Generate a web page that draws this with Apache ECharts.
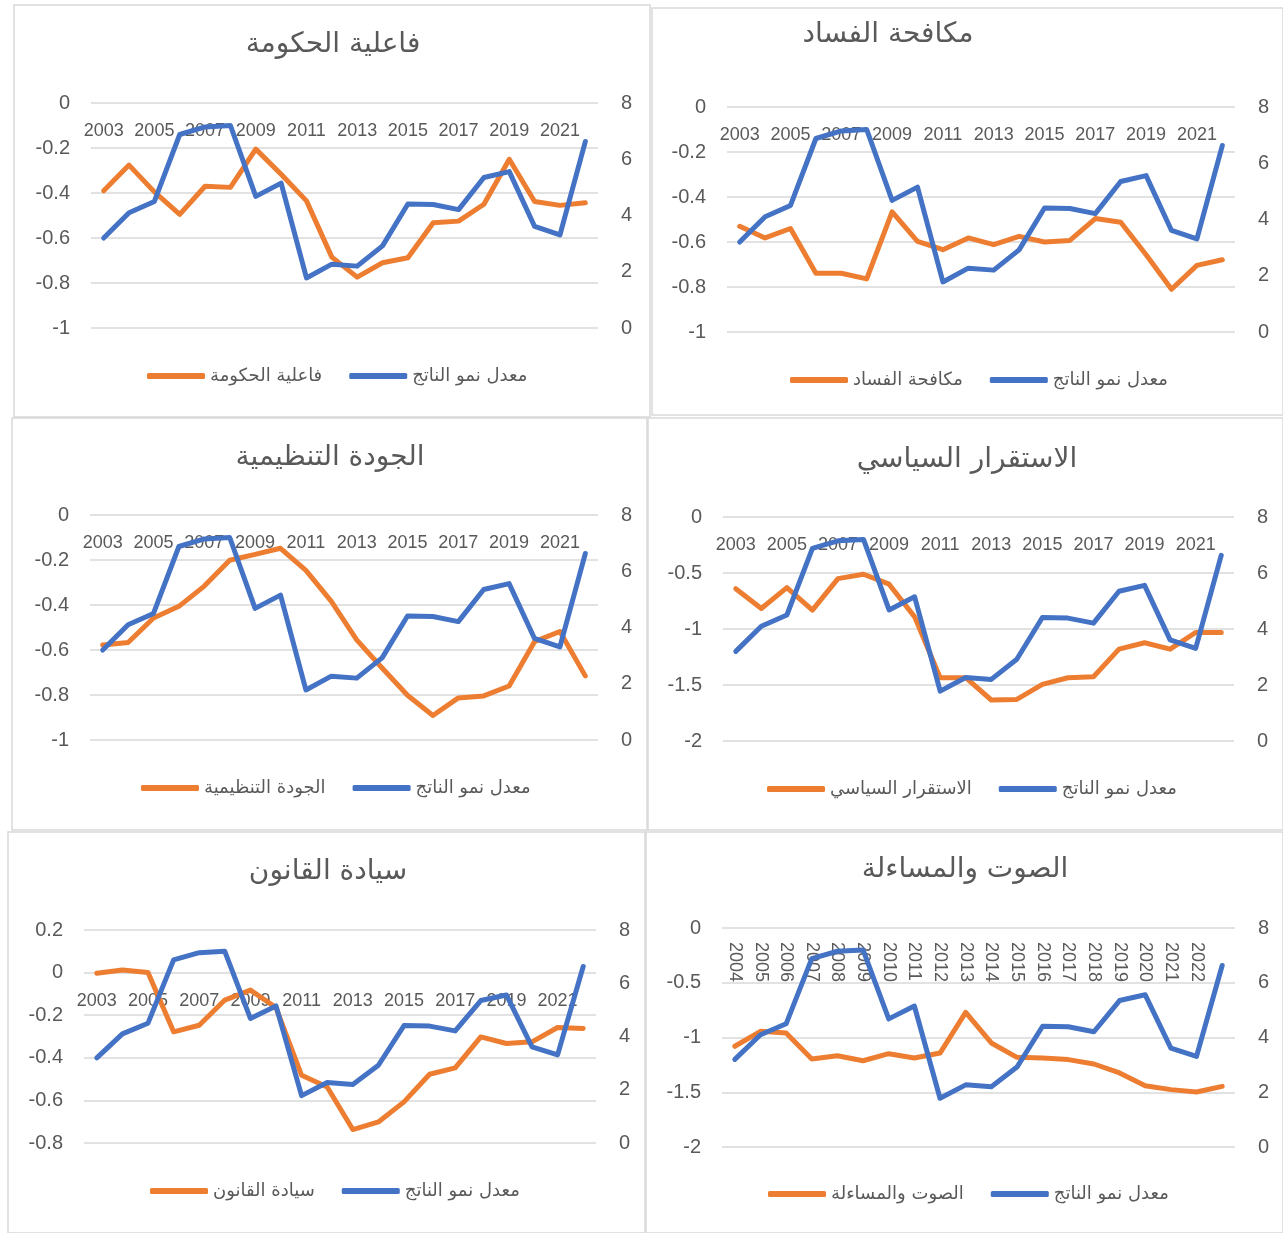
<!DOCTYPE html>
<html>
<head>
<meta charset="utf-8">
<title>مؤشرات الحوكمة ومعدل نمو الناتج</title>
<script src="https://cdn.jsdelivr.net/npm/echarts@6/dist/echarts.min.js"></script>
<style>
html,body{margin:0;padding:0;background:#fff;}
#main{width:1283px;height:1233px;}
</style>
</head>
<body>
<div id="main"></div>
<script>
// السنوات
var years = ['2003','2004','2005','2006','2007','2008','2009','2010','2011','2012',
             '2013','2014','2015','2016','2017','2018','2019','2020','2021','2022'];
var yearsVoice = ['2004','2005','2006','2007','2008','2009','2010','2011','2012','2013',
                  '2014','2015','2016','2017','2018','2019','2020','2021','2022',''];

// معدل نمو الناتج (المحور الايمن)
var gdpGrowth = [3.2, 4.1, 4.5, 6.88, 7.15, 7.2, 4.68, 5.15, 1.78, 2.27,
                 2.2, 2.92, 4.41, 4.39, 4.21, 5.35, 5.56, 3.61, 3.31, 6.63];

// مؤشرات الحوكمة (المحور الايسر)
var govEffect = [-0.39, -0.276, -0.395, -0.495, -0.37, -0.375, -0.205, -0.317, -0.435, -0.685,
                 -0.774, -0.71, -0.688, -0.532, -0.525, -0.45, -0.25, -0.438, -0.455, -0.443];
var corruption = [-0.53, -0.582, -0.54, -0.739, -0.739, -0.764, -0.466, -0.597, -0.634, -0.582,
                  -0.612, -0.575, -0.6, -0.593, -0.496, -0.512, -0.657, -0.81, -0.704, -0.679];
var regQuality = [-0.578, -0.567, -0.458, -0.406, -0.316, -0.201, -0.175, -0.148, -0.246, -0.384,
                  -0.555, -0.68, -0.801, -0.891, -0.813, -0.804, -0.76, -0.563, -0.518, -0.715];
var polStability = [-0.64, -0.817, -0.63, -0.832, -0.55, -0.511, -0.6, -0.892, -1.435, -1.435,
                    -1.634, -1.629, -1.495, -1.435, -1.426, -1.18, -1.123, -1.18, -1.031, -1.031];
var ruleOfLaw = [-0.003, 0.012, 0.0, -0.278, -0.247, -0.129, -0.082, -0.164, -0.482, -0.537,
                 -0.737, -0.701, -0.607, -0.477, -0.447, -0.302, -0.333, -0.325, -0.258, -0.262];
var voiceAcc = [-1.08, -0.944, -0.959, -1.196, -1.166, -1.212, -1.148, -1.187, -1.142, -0.77,
                -1.05, -1.181, -1.187, -1.202, -1.242, -1.324, -1.44, -1.476, -1.498, -1.446];

var gdpName = 'معدل نمو الناتج';
var orange = '#ED7D31', blue = '#4472C4', txt = '#595959', gridClr = '#d9d9d9';

// الرسوم الستة: grid = [left, top, width, height]
var panels = [
  {name:'فاعلية الحكومة', data:govEffect, cats:years, min:-1, max:0, step:0.2,
   grid:[91,103,507,225], titleAt:[333,45], legendAt:[147,378], box:[14,5,636,412]},
  {name:'مكافحة الفساد', data:corruption, cats:years, min:-1, max:0, step:0.2,
   grid:[727,107,508,225], titleAt:[888,35], legendAt:[790,382], box:[652,8,631,407]},
  {name:'الجودة التنظيمية', data:regQuality, cats:years, min:-1, max:0, step:0.2,
   grid:[90,515,508,225], titleAt:[330,458], legendAt:[141,790], box:[12,418,635,412]},
  {name:'الاستقرار السياسي', data:polStability, cats:years, min:-2, max:0, step:0.5,
   grid:[723,517,511,224], titleAt:[967,460], legendAt:[767,791], box:[648,418,635,412]},
  {name:'سيادة القانون', data:ruleOfLaw, cats:years, min:-0.8, max:0.2, step:0.2,
   grid:[84,930,512,213], titleAt:[328,872], legendAt:[150,1193], box:[8,832,637,401]},
  {name:'الصوت والمساءلة', data:voiceAcc, cats:yearsVoice, min:-2, max:0, step:0.5, rotate:true,
   grid:[722,928,513,219], titleAt:[965,870], legendAt:[768,1196], box:[646,832,637,401]}
];

var option = {
  animation: false,
  backgroundColor: '#fff',
  title: [], legend: [], grid: [], xAxis: [], yAxis: [], series: [], graphic: []
};

panels.forEach(function (p, i) {
  option.graphic.push({
    type: 'rect', silent: true, z: -10,
    shape: {x: p.box[0], y: p.box[1], width: p.box[2], height: p.box[3]},
    style: {fill: 'none', stroke: gridClr, lineWidth: 1.5}
  });
  option.title.push({
    text: p.name, left: p.titleAt[0], top: p.titleAt[1], padding: 0,
    textAlign: 'center', textVerticalAlign: 'middle',
    textStyle: {fontFamily: 'DejaVu Sans', fontSize: 28, fontWeight: 'normal', color: txt}
  });
  option.legend.push({
    left: p.legendAt[0], top: p.legendAt[1] - 11, padding: 0,
    data: [p.name, gdpName], icon: 'roundRect',
    itemWidth: 58, itemHeight: 6, itemGap: 27,
    textStyle: {fontFamily: 'DejaVu Sans', fontSize: 18, color: txt}
  });
  option.grid.push({
    left: p.grid[0], top: p.grid[1], width: p.grid[2], height: p.grid[3],
    containLabel: false, outerBoundsMode: 'none'
  });
  // محور السنوات عند صفر المحور الايسر، والتسميات تحته
  var zeroOffset = p.grid[3] * p.max / (p.max - p.min);
  option.xAxis.push({
    type: 'category', gridIndex: i, data: p.cats, boundaryGap: true,
    position: 'top', offset: -zeroOffset,
    axisLine: {show: false, onZero: false},
    axisTick: {show: false},
    splitLine: {show: false},
    axisLabel: {
      inside: true,
      interval: p.rotate ? 0 : 1, rotate: p.rotate ? 90 : 0, margin: p.rotate ? 14 : 19,
      fontFamily: 'Liberation Sans', fontSize: 18, color: txt
    }
  });
  option.yAxis.push({
    type: 'value', gridIndex: i, position: 'left',
    min: p.min, max: p.max, interval: p.step,
    axisLine: {show: false}, axisTick: {show: false},
    axisLabel: {fontFamily: 'Liberation Sans', fontSize: 20, color: txt, margin: 21},
    splitLine: {lineStyle: {color: gridClr, width: 1.5}}
  });
  option.yAxis.push({
    type: 'value', gridIndex: i, position: 'right',
    min: 0, max: 8, interval: 2,
    axisLine: {show: false}, axisTick: {show: false},
    axisLabel: {fontFamily: 'Liberation Sans', fontSize: 20, color: txt, margin: 23},
    splitLine: {show: false}
  });
  option.series.push({
    type: 'line', name: p.name, xAxisIndex: i, yAxisIndex: 2 * i,
    data: p.data, symbol: 'none',
    itemStyle: {color: orange},
    lineStyle: {color: orange, width: 5, cap: 'round', join: 'round'}
  });
  option.series.push({
    type: 'line', name: gdpName, xAxisIndex: i, yAxisIndex: 2 * i + 1,
    data: gdpGrowth, symbol: 'none',
    itemStyle: {color: blue},
    lineStyle: {color: blue, width: 5, cap: 'round', join: 'round'}
  });
});

var chart = echarts.init(document.getElementById('main'));
chart.setOption(option);
</script>
</body>
</html>
